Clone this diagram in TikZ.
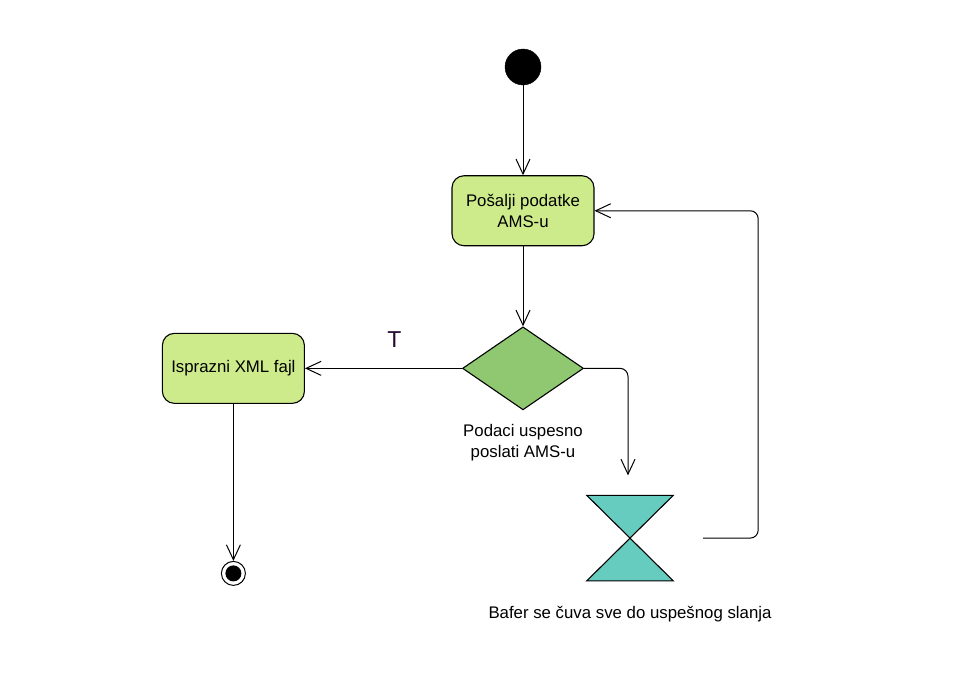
\documentclass[tikz,border=0pt]{standalone}
\usepackage{fontspec}
\setmainfont{Liberation Sans}
\usetikzlibrary{shapes,shapes.geometric,positioning,arrows.meta}
\definecolor{actgreen}{HTML}{CDEB8B}
\definecolor{decgreen}{HTML}{8FC870}
\definecolor{waitteal}{HTML}{66CCBF}
\definecolor{guardcol}{HTML}{24082E}
\tikzset{
	action/.style={draw,rounded corners=12pt,fill=actgreen,line width=1.1pt,minimum width=142pt,minimum height=70pt,align=center,font=\fontsize{16.8}{21}\selectfont},
	decision/.style={draw,diamond,fill=decgreen,line width=1.1pt,inner sep=0pt,minimum width=121pt,minimum height=83pt},
	initial/.style={circle,fill=black,draw,minimum size=36pt,inner sep=0pt},
	final/.style={circle,draw,line width=1pt,minimum size=24pt,inner sep=0pt},
	caption/.style={inner sep=0pt,align=center,font=\fontsize{16.8}{21}\selectfont},
	conn/.style={line width=1pt,-{Straight Barb[length=15pt,width=14pt]}}
}
\begin{document}
\begin{tikzpicture}[x=1pt,y=1pt]
	\useasboundingbox (0,0) rectangle (977,-677);
	\node[initial] (start) at (523,-67) {};
	\node[action,below=90pt of start] (send) {Pošalji podatke\\AMS-u};
	\node[decision,below=80pt of send] (dec) {};
	\node[caption,below=14pt of dec] (declabel) {Podaci uspesno\\poslati AMS-u};
	\node[action,left=157pt of dec] (empty) {Isprazni XML fajl};
	\node[final,below=157pt of empty] (end) {};
	\fill (end) circle (8pt);
	\node[inner sep=0pt,minimum width=86pt,minimum height=85pt,below=85pt of dec,xshift=107pt] (wait) {};
	\filldraw[fill=waitteal,line width=1.1pt,line join=miter] (wait.north west) -- (wait.north east) -- (wait.south west) -- (wait.south east) -- cycle;
	\node[caption,below=25pt of wait] (waitlabel) {Bafer se čuva sve do uspešnog slanja};
	\coordinate (waitin) at ([xshift=-2pt,yshift=20pt]wait.north);
	\coordinate (waitout) at ([xshift=30pt]wait.east);
	\draw[conn] (start) -- (send);
	\draw[conn] (send) -- (dec);
	\draw[conn] (dec) -- node[pos=0.43,above=17pt,font=\fontsize{23}{25}\selectfont,text=guardcol] (guard) {T} (empty);
	\draw[conn] (empty) -- (end);
	\draw[conn,rounded corners=8pt] (dec.east) -| (waitin);
	\draw[conn,rounded corners=8pt] (waitout) -- ++(55,0) |- (send.east);
\end{tikzpicture}
\end{document}
